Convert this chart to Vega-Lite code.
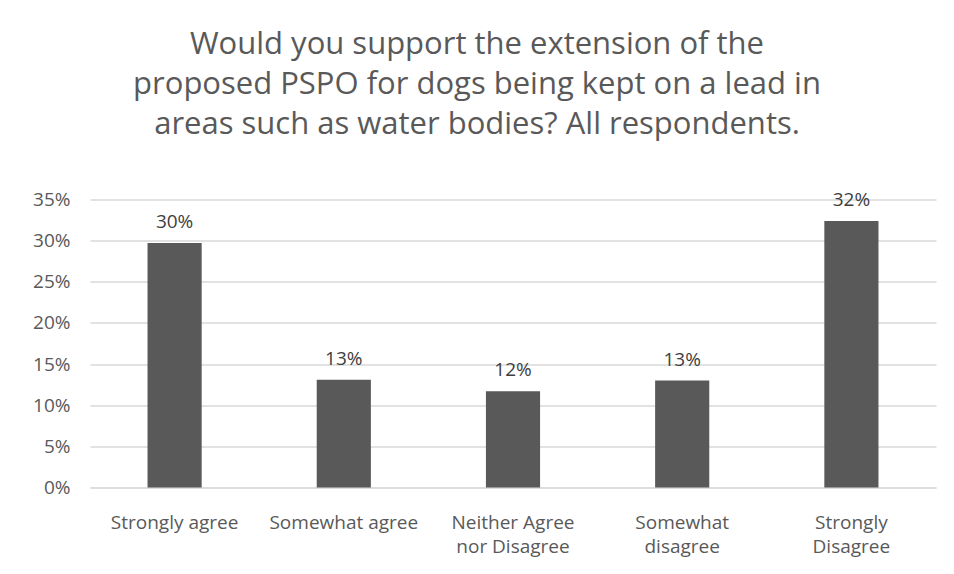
{
  "$schema": "https://vega.github.io/schema/vega-lite/v6.json",
  "autosize": "none",
  "width": 846,
  "height": 288,
  "padding": {"left": 90, "top": 199.5, "right": 18, "bottom": 86.5},
  "background": "white",
  "title": {
    "text": ["Would you support the extension of the", "proposed PSPO for dogs being kept on a lead in", "areas such as water bodies? All respondents."],
    "anchor": "middle",
    "dx": -36,
    "offset": 50,
    "font": "Open Sans",
    "fontSize": 31,
    "fontWeight": "normal",
    "color": "#595959",
    "lineHeight": 40
  },
  "data": {
    "values": [
      {"response": "Strongly agree", "pct": 29.7, "label": "30%"},
      {"response": "Somewhat agree", "pct": 13.1, "label": "13%"},
      {"response": "Neither Agree nor Disagree", "pct": 11.7, "label": "12%"},
      {"response": "Somewhat disagree", "pct": 13.0, "label": "13%"},
      {"response": "Strongly Disagree", "pct": 32.4, "label": "32%"}
    ]
  },
  "encoding": {
    "x": {
      "field": "response",
      "type": "nominal",
      "sort": null,
      "scale": {"paddingInner": 0.68, "paddingOuter": 0.34},
      "axis": {
        "title": null,
        "labelAngle": 0,
        "labelFont": "Open Sans",
        "labelFontSize": 19,
        "labelColor": "#595959",
        "labelPadding": 26,
        "labelLineHeight": 24,
        "labelBaseline": "top",
        "ticks": false,
        "domainColor": "#d9d9d9",
        "labelExpr": "datum.value == 'Neither Agree nor Disagree' ? ['Neither Agree', 'nor Disagree'] : datum.value == 'Somewhat disagree' ? ['Somewhat', 'disagree'] : datum.value == 'Strongly Disagree' ? ['Strongly', 'Disagree'] : datum.value"
      }
    },
    "y": {
      "field": "pct",
      "type": "quantitative",
      "scale": {"domain": [0, 35], "nice": false},
      "axis": {
        "title": null,
        "values": [0, 5, 10, 15, 20, 25, 30, 35],
        "labelExpr": "datum.value + '%'",
        "labelFont": "Open Sans",
        "labelFontSize": 19,
        "labelColor": "#595959",
        "labelPadding": 20,
        "ticks": false,
        "domain": false,
        "gridColor": "#d9d9d9",
        "gridWidth": 1.3
      }
    }
  },
  "layer": [
    {"mark": {"type": "bar", "color": "#595959"}},
    {
      "mark": {"type": "text", "baseline": "alphabetic", "dy": -15, "font": "Open Sans", "fontSize": 19, "color": "#404040"},
      "encoding": {"text": {"field": "label"}}
    }
  ],
  "config": {"view": {"stroke": null}}
}
